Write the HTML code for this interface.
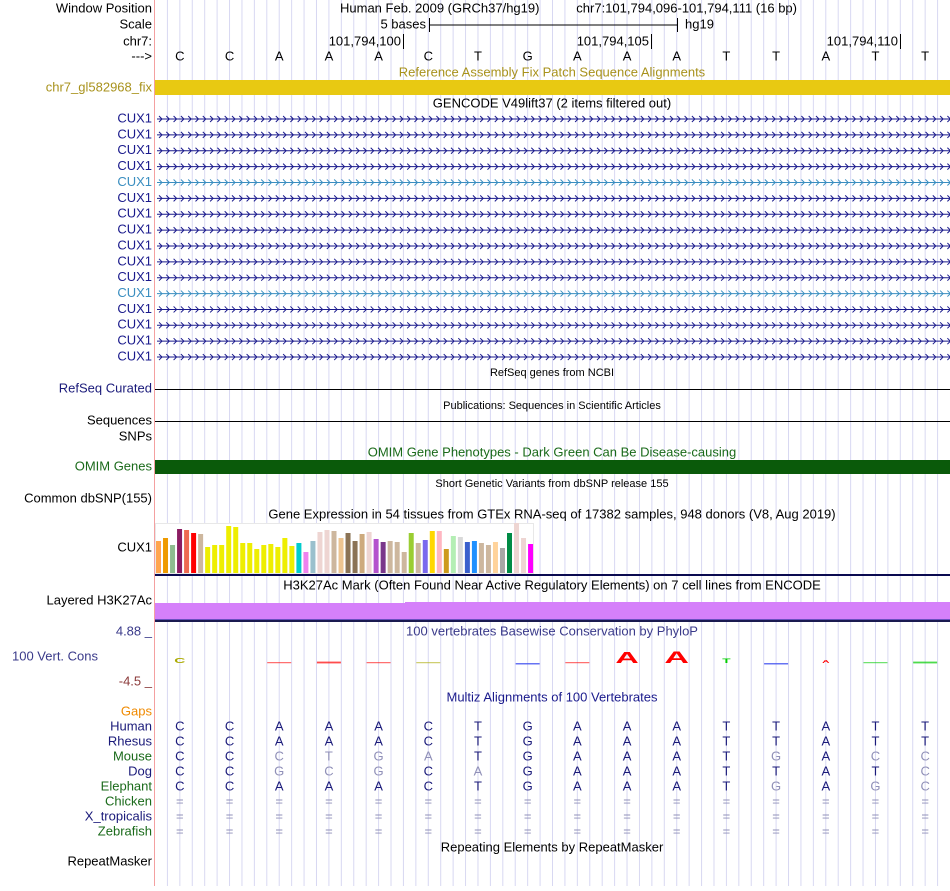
<!DOCTYPE html>
<html><head><meta charset="utf-8">
<style>
body{margin:0;background:#fff;width:950px;height:886px;overflow:hidden;font-family:"Liberation Sans",sans-serif;}
svg text{font-family:"Liberation Sans",sans-serif;}
</style></head>
<body>
<svg id="g" width="950" height="886" xmlns="http://www.w3.org/2000/svg">
</svg>
<script>
const seq = ["C","C","A","A","A","C","T","G","A","A","A","T","T","A","T","T"];
const species = ["Human","Rhesus","Mouse","Dog","Elephant","Chicken","X_tropicalis","Zebrafish"];
const speciesColors = ["#1a1a7a","#1a1a7a","#1a6a1a","#1a1a7a","#1a6a1a","#1a6a1a","#1a1a7a","#1a6a1a"];
const alignRows = [
 "CCAAACTGAAATTATT",
 "CCAAACTGAAATTATT",
 "CCCTGATGAAATGACC",
 "CCGCGCAGAAATTATC",
 "CCAAACTGAAATGAGC",
 "================",
 "================",
 "================"];
const gtexHeights = [32,35,28,44,43,40,39,26,28,28,47,46,30,30,24,28,29,26,35,27,30,21,32,41,43,42,35,40,32,39,41,34,31,32,31,21,40,30,33,42,42,24,37,36,31,32,30,28,31,25,40,50,35,29];
const gtexColors = ["#FFA54F","#EE9A00","#8FBC8F","#8B1C62","#EE6A50","#FF0000","#CDB79E","#EEEE00","#EEEE00","#EEEE00","#EEEE00","#EEEE00","#EEEE00","#EEEE00","#EEEE00","#EEEE00","#EEEE00","#EEEE00","#EEEE00","#EEEE00","#00CDCD","#EE82EE","#9AC0CD","#EED5D2","#EED5D2","#CDB79E","#EEC591","#8B7355","#8B7355","#CDAA7D","#EED5D2","#B452CD","#7A378B","#CDB79E","#CDB79E","#CDB79E","#9ACD32","#CDB79E","#7A67EE","#FFD700","#FFB6C1","#CD9B1D","#B4EEB4","#D9D9D9","#3A5FCD","#1E90FF","#CDB79E","#CDB79E","#FFD39B","#A6A6A6","#008B45","#EED5D2","#EED5D2","#FF00FF"];
const phylop = [0.9,0,0.1,0.3,0.1,0.1,0,-0.2,0.1,1.9,2.0,0.8,-0.3,0.6,0.1,0.3];
const geneColors = ["#1a1a8c","#1a1a8c","#1a1a8c","#1a1a8c","#3a8ec0","#1a1a8c","#1a1a8c","#1a1a8c","#1a1a8c","#1a1a8c","#1a1a8c","#3a8ec0","#1a1a8c","#1a1a8c","#1a1a8c","#1a1a8c"];

const svg=document.getElementById('g');
const NS='http://www.w3.org/2000/svg';
const X0=155,X1=950,BW=(X1-X0)/seq.length;
function bx(i){return X0+(i+0.5)*BW;}
function mk(tag,a,txt){const e=document.createElementNS(NS,tag);for(const k in a)e.setAttribute(k,a[k]);if(txt!==undefined)e.textContent=txt;svg.appendChild(e);return e;}
function T(x,y,s,o){o=o||{};const e=mk('text',{x:x,y:y,'font-size':o.fs||13,fill:o.fill||'#000','text-anchor':o.anchor||'start','dominant-baseline':'middle'},s);return e;}

for(let k=1;k<64;k++){const l=mk('line',{x1:X0+k*BW/4,x2:X0+k*BW/4,y1:0,y2:886,stroke:'#d8d8f2','stroke-width':1});

}
const rl=mk('line',{x1:154.5,x2:154.5,y1:0,y2:886,stroke:'#f4a0a0'});


function L(y,s,fill,name){const e=T(152,y,s,{anchor:'end',fill:fill||'#000'});return e;}
function C(y,s,fill,fs,name){const e=T(552,y,s,{anchor:'middle',fill:fill||'#000',fs:fs||13});return e;}

L(9,'Window Position',null,'window-position-label');
L(25,'Scale',null,'scale-label');
L(42,'chr7:',null,'chr-label');
L(57,'--->',null,'strand-label');
let e=T(340,9,'Human Feb. 2009 (GRCh37/hg19)');

e=T(797,9,'chr7:101,794,096-101,794,111 (16 bp)',{anchor:'end'});

e=T(426,25,'5 bases',{anchor:'end'});
mk('line',{x1:429.5,x2:429.5,y1:18,y2:32,stroke:'#000'});
mk('line',{x1:429,x2:677,y1:25,y2:25,stroke:'#000'});
mk('line',{x1:677.5,x2:677.5,y1:18,y2:32,stroke:'#000'});
e=T(685,25,'hg19');
[[403,'101,794,100'],[651,'101,794,105'],[900,'101,794,110']].forEach(p=>{
 const t=T(p[0]-2,42,p[1],{anchor:'end'});
 mk('line',{x1:p[0]+.5,x2:p[0]+.5,y1:34,y2:49,stroke:'#000'});});
seq.forEach((b,i)=>{const t=T(bx(i),57,b,{anchor:'middle'});});

C(73,'Reference Assembly Fix Patch Sequence Alignments','#a8921c',13,'fix-patch-title');
L(88,'chr7_gl582968_fix','#a8921c','fix-patch-label');
e=mk('rect',{x:X0,y:80,width:X1-X0,height:15,fill:'#e8c912'});

C(104,'GENCODE V49lift37 (2 items filtered out)','#000',13,'gencode-title');
for(let r=0;r<16;r++){const y=119+r*15.87;const col=geneColors[r];
 L(y,'CUX1',col,'gene-label');
 const g=mk('line',{x1:X0+2,x2:X1,y1:y,y2:y,stroke:col,'stroke-width':1});
 
 let d='';for(let x=X0+4;x<X1;x+=7.3){d+=`M${x},${y-3}L${x+3},${y}L${x},${y+3}`;}
 mk('path',{d:d,stroke:col,fill:'none','stroke-width':1});}

C(373,'RefSeq genes from NCBI','#000',11,'refseq-title');
L(389,'RefSeq Curated','#1a1a7a','refseq-label');
mk('line',{x1:X0,x2:X1,y1:389.5,y2:389.5,stroke:'#000'});
C(406,'Publications: Sequences in Scientific Articles','#000',11,'publications-title');
L(421,'Sequences',null,'sequences-label');
mk('line',{x1:X0,x2:X1,y1:421.5,y2:421.5,stroke:'#000'});
L(437,'SNPs',null,'snps-label');
C(453,'OMIM Gene Phenotypes - Dark Green Can Be Disease-causing','#1a6a1a',13,'omim-title');
L(467,'OMIM Genes','#1a6a1a','omim-label');
e=mk('rect',{x:X0,y:460,width:X1-X0,height:14,fill:'#0a5a0a'});
C(484,'Short Genetic Variants from dbSNP release 155','#000',11,'dbsnp-title');
L(499,'Common dbSNP(155)',null,'dbsnp-label');

C(515,'Gene Expression in 54 tissues from GTEx RNA-seq of 17382 samples, 948 donors (V8, Aug 2019)','#000',13,'gtex-title');
L(548,'CUX1',null,'gtex-gene-label');
mk('rect',{x:155.5,y:523.5,width:378,height:50,fill:'#fff',stroke:'#e8e8e8'});
const GB=573,GS=7.02;
function gy(v){return GB-v;}
gtexHeights.forEach((h,i)=>{const r=mk('rect',{x:156+i*GS,y:gy(h),width:5,height:h,fill:gtexColors[i]});
 });
mk('rect',{x:X0,y:574,width:X1-X0,height:2,fill:'#0a0a50'});

C(586,'H3K27Ac Mark (Often Found Near Active Regulatory Elements) on 7 cell lines from ENCODE','#000',13,'h3k27ac-title');
L(601,'Layered H3K27Ac',null,'h3k27ac-label');
e=mk('rect',{x:X0,y:603,width:X1-X0,height:17,fill:'#d580fa'});
mk('rect',{x:405,y:602,width:545,height:2,fill:'#d580fa'});
mk('rect',{x:X0,y:619,width:X1-X0,height:1,fill:'#6a50c0'});
mk('rect',{x:X0,y:620,width:X1-X0,height:2,fill:'#1a1a50'});

C(632,'100 vertebrates Basewise Conservation by PhyloP','#3a3a8a',13,'phylop-title');
e=T(152,632,'4.88 _',{anchor:'end',fill:'#3a3a8a'});
e=T(12,657,'100 Vert. Cons',{fill:'#3a3a8a'});
e=T(152,682,'-4.5 _',{anchor:'end',fill:'#8b3a3a'});
const PB=663,PS=6;
const lc={A:'#ff0000',C:'#aaaa00',G:'#ffaa00',T:'#00cc00'};
phylop.forEach((v,i)=>{
 const cx=bx(i);
 const h=Math.abs(v)*PS;
 let el;
 if(v===0){return;}
 if(v<0){el=mk('rect',{x:cx-12,y:PB,width:24,height:Math.max(1.5,h/3),fill:'#4050f0',opacity:0.8});}
 else if(h<3){el=mk('rect',{x:cx-12,y:PB-h/2-0.5,width:24,height:Math.max(1,h),fill:lc[seq[i]],opacity:0.7});}
 else{el=mk('text',{x:cx,y:PB,'font-size':h*1.35,fill:lc[seq[i]],'text-anchor':'middle','font-weight':'bold',transform:`translate(${cx},${PB}) scale(2.1,1) translate(${-cx},${-PB})`},seq[i]);}
 });

C(698,'Multiz Alignments of 100 Vertebrates','#1a1a8c',13,'multiz-title');
L(712,'Gaps','#f08a00','gaps-label');
species.forEach((s,r)=>{const y=727+r*15;
 L(y,s,speciesColors[r],'species-'+s.toLowerCase());
 for(let i=0;i<seq.length;i++){const b=alignRows[r][i];
  const match=(b===seq[i]);
  const t=T(bx(i),y,b,{anchor:'middle',fill:(b==='='||!match)?'#9090b8':'#1a1a7a'});
  }});
C(848,'Repeating Elements by RepeatMasker','#000',13,'repeatmasker-title');
L(862,'RepeatMasker',null,'repeatmasker-label');
</script>
</body></html>
